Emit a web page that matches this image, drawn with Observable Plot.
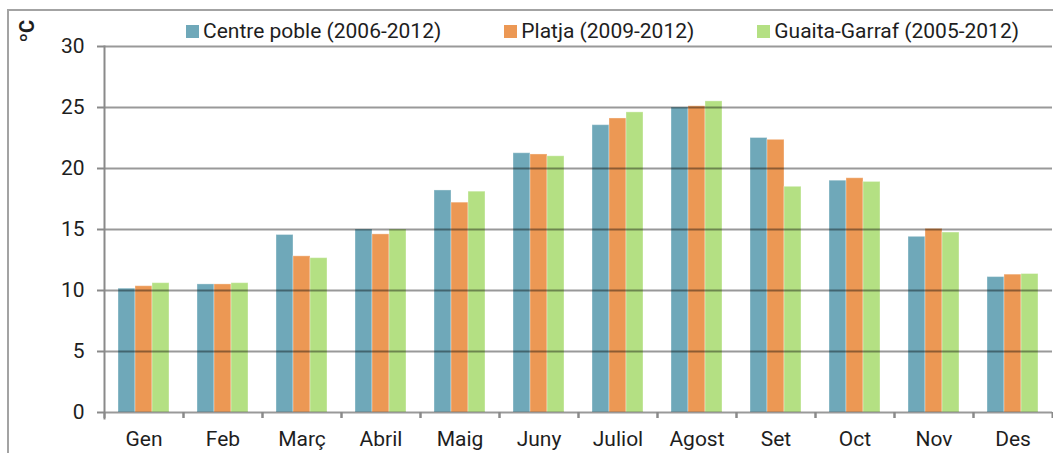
<!DOCTYPE html>
<html>
<head>
<meta charset="utf-8">
<script src="https://cdn.jsdelivr.net/npm/d3@7"></script>
<script src="https://cdn.jsdelivr.net/npm/@observablehq/plot@0.6"></script>
<style>
  html, body { margin: 0; padding: 0; background: #fff; }
  #wrap { position: relative; width: 1053px; height: 453px; overflow: hidden; font-family: Roboto, "Liberation Sans", sans-serif; color: #1e1e1e; }
  #border { position: absolute; left: 7px; top: 9px; width: 1200px; height: 600px; border: 2px solid #a3a3a3; box-sizing: border-box; }
  #chart { position: absolute; left: 0; top: 0; }
  #legend { position: absolute; left: 186px; top: 21px; display: flex; gap: 63px; font-size: 21px; line-height: 21px; }
  .item { display: flex; align-items: center; white-space: nowrap; }
  .sw { width: 13px; height: 13px; margin-right: 4px; }
  #ylabel { position: absolute; left: 27px; top: 31px; font-weight: bold; font-size: 20px; line-height: 20px; white-space: nowrap; }
</style>
</head>
<body>
<div id="wrap">
  <div id="border"></div>
  <div id="chart"></div>
  <div id="legend"></div>
  <div id="ylabel"></div>
</div>
<script>
const months = ["Gen","Feb","Març","Abril","Maig","Juny","Juliol","Agost","Set","Oct","Nov","Des"];
const seriesNames = ["Centre poble (2006-2012)", "Platja (2009-2012)", "Guaita-Garraf (2005-2012)"];
const seriesColors = ["#6fa8b9", "#ec9854", "#b4e083"];
const centrePoble = [10.15, 10.5, 14.55, 15.0, 18.2, 21.25, 23.55, 25.0, 22.5, 19.0, 14.4, 11.1];
const platja      = [10.35, 10.5, 12.8, 14.6, 17.2, 21.15, 24.1, 25.1, 22.35, 19.2, 15.05, 11.3];
const guaitaGarraf= [10.6, 10.6, 12.65, 15.0, 18.1, 21.0, 24.6, 25.5, 18.5, 18.9, 14.75, 11.35];
const yTicks = [0, 5, 10, 15, 20, 25, 30];
const yLabel = "ºC";

const seriesValues = [centrePoble, platja, guaitaGarraf];
const data = [];
months.forEach((m, i) => {
  seriesNames.forEach((s, j) => data.push({month: m, series: s, value: seriesValues[j][i]}));
});

const chart = Plot.plot({
  width: 1053,
  height: 453,
  marginLeft: 104,
  marginRight: 1,
  marginTop: 46,
  marginBottom: 41,
  style: {fontFamily: "Roboto, 'Liberation Sans', sans-serif", fontSize: "21px", color: "#1e1e1e", background: "transparent", overflow: "visible"},
  fx: {domain: months, padding: 0, label: null},
  x: {domain: seriesNames, paddingInner: 0, paddingOuter: 0.75, axis: null},
  y: {domain: [0, 30], label: null},
  color: {domain: seriesNames, range: seriesColors},
  marks: [
    Plot.barY(data, {fx: "month", x: "series", y: "value", fill: "series", stroke: "#ffffff", strokeOpacity: 0.35, strokeWidth: 1}),
    Plot.gridY(yTicks, {stroke: "#000", strokeOpacity: 0.4, strokeWidth: 2}),
    Plot.frame({anchor: "left", facetAnchor: "left", stroke: "#8a8a8a", strokeWidth: 2, strokeOpacity: 1, insetBottom: -6}),
    Plot.axisY(yTicks, {tickSize: 7, tickPadding: 13, stroke: "#8a8a8a", strokeWidth: 2, strokeOpacity: 1, label: null}),
    Plot.axisFx({anchor: "bottom", tickSize: 0, tickPadding: 19, label: null}),
    Plot.axisFx({anchor: "bottom", tickSize: 6, tickFormat: () => "", dx: -39.5, stroke: "#8a8a8a", strokeWidth: 2, strokeOpacity: 1, label: null}),
    Plot.axisFx({anchor: "bottom", tickSize: 6, tickFormat: () => "", dx: 39.5, stroke: "#8a8a8a", strokeWidth: 2, strokeOpacity: 1, label: null})
  ]
});
document.getElementById("chart").append(chart);

const legend = document.getElementById("legend");
seriesNames.forEach((s, j) => {
  const it = document.createElement("div");
  it.className = "item";
  const sw = document.createElement("span");
  sw.className = "sw";
  sw.style.background = seriesColors[j];
  const tx = document.createElement("span");
  tx.textContent = s;
  it.append(sw, tx);
  legend.append(it);
});
const yl = document.getElementById("ylabel");
yl.textContent = yLabel;
yl.style.transform = "translate(-50%, -50%) rotate(-90deg)";
</script>
</body>
</html>
